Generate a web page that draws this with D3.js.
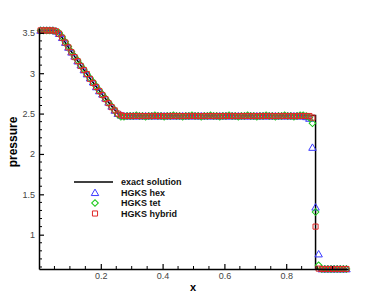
<!DOCTYPE html>
<html><head><meta charset="utf-8">
<script src="https://cdn.jsdelivr.net/npm/d3@7"></script>
<style>body{margin:0;background:#fff}svg{display:block}</style>
</head><body>
<svg id="c" width="387" height="301"></svg>
<script>
// exact solution polyline
const exactX = [0, 0.06, 0.08, 0.10, 0.12, 0.14, 0.16, 0.18, 0.20, 0.22, 0.24, 0.26, 0.895, 0.895, 0.997];
const exactP = [3.53, 3.53, 3.410, 3.293, 3.180, 3.070, 2.963, 2.860, 2.759, 2.662, 2.568, 2.476, 2.476, 0.575, 0.575];

// cell centres
const cellX = [0.005,0.015,0.025,0.035,0.045,0.055,0.065,0.075,0.085,0.095,
0.105,0.115,0.125,0.135,0.145,0.155,0.165,0.175,0.185,0.195,
0.205,0.215,0.225,0.235,0.245,0.255,0.265,0.275,0.285,0.295,
0.305,0.315,0.325,0.335,0.345,0.355,0.365,0.375,0.385,0.395,
0.405,0.415,0.425,0.435,0.445,0.455,0.465,0.475,0.485,0.495,
0.505,0.515,0.525,0.535,0.545,0.555,0.565,0.575,0.585,0.595,
0.605,0.615,0.625,0.635,0.645,0.655,0.665,0.675,0.685,0.695,
0.705,0.715,0.725,0.735,0.745,0.755,0.765,0.775,0.785,0.795,
0.805,0.815,0.825,0.835,0.845,0.855,0.865,0.875,0.885,0.895,
0.905,0.915,0.925,0.935,0.945,0.955,0.965,0.975,0.985,0.995];

const hexP = [3.53,3.53,3.53,3.53,3.53,3.52,3.49,3.44,3.38,3.32,
3.26,3.21,3.15,3.10,3.04,2.99,2.94,2.89,2.83,2.78,
2.74,2.69,2.64,2.59,2.54,2.50,2.48,2.47,2.47,2.47,
2.47,2.47,2.47,2.47,2.47,2.47,2.47,2.47,2.47,2.47,
2.47,2.47,2.47,2.47,2.47,2.47,2.47,2.47,2.47,2.47,
2.47,2.47,2.47,2.47,2.47,2.47,2.47,2.47,2.47,2.47,
2.47,2.47,2.47,2.47,2.47,2.47,2.47,2.47,2.47,2.47,
2.47,2.47,2.47,2.47,2.47,2.47,2.47,2.47,2.47,2.47,
2.47,2.47,2.47,2.47,2.47,2.47,2.46,2.44,2.08,1.34,
0.76,0.575,0.575,0.575,0.575,0.575,0.575,0.575,0.575,0.575];

const tetP = [3.53,3.53,3.53,3.53,3.53,3.52,3.50,3.45,3.39,3.33,
3.27,3.21,3.16,3.10,3.05,2.99,2.94,2.89,2.84,2.79,
2.74,2.69,2.64,2.59,2.54,2.49,2.46,2.46,2.47,2.47,
2.47,2.48,2.47,2.47,2.46,2.47,2.47,2.48,2.47,2.47,
2.46,2.47,2.47,2.48,2.47,2.47,2.46,2.47,2.47,2.48,
2.47,2.47,2.46,2.47,2.47,2.48,2.47,2.47,2.46,2.47,
2.47,2.48,2.47,2.47,2.46,2.47,2.47,2.48,2.47,2.47,
2.46,2.47,2.47,2.48,2.47,2.47,2.46,2.47,2.47,2.48,
2.47,2.47,2.46,2.47,2.48,2.48,2.47,2.45,2.38,1.28,
0.62,0.575,0.575,0.575,0.575,0.575,0.575,0.575,0.575,0.575];

const hybridP = [3.53,3.53,3.53,3.53,3.53,3.52,3.49,3.44,3.38,3.32,
3.26,3.20,3.15,3.09,3.04,2.99,2.93,2.88,2.83,2.78,
2.73,2.68,2.63,2.58,2.54,2.50,2.48,2.47,2.47,2.47,
2.47,2.47,2.47,2.47,2.47,2.47,2.47,2.47,2.47,2.47,
2.47,2.47,2.47,2.47,2.47,2.47,2.47,2.47,2.47,2.47,
2.47,2.47,2.47,2.47,2.47,2.47,2.47,2.47,2.47,2.47,
2.47,2.47,2.47,2.47,2.47,2.47,2.47,2.47,2.47,2.47,
2.47,2.47,2.47,2.47,2.47,2.47,2.47,2.47,2.47,2.47,
2.47,2.47,2.47,2.47,2.47,2.47,2.47,2.47,2.45,1.10,
0.58,0.575,0.575,0.575,0.575,0.575,0.575,0.575,0.575,0.575];

const xTicks = [0.2, 0.4, 0.6, 0.8];
const xTickLabels = ["0.2", "0.4", "0.6", "0.8"];
const yTicks = [1, 1.5, 2, 2.5, 3, 3.5];
const yTickLabels = ["1", "1.5", "2", "2.5", "3", "3.5"];
const legendLabels = ["exact solution", "HGKS hex", "HGKS tet", "HGKS hybrid"];
const seriesColors = ["#3a3aff", "#18c818", "#e02828"];

const svg = d3.select("#c");
const x = d3.scaleLinear().domain([0, 1]).range([39, 348]);
const y = d3.scaleLinear().domain([0.575, 3.56]).range([269, 28]);

// marker symbols (diamond = square rotated 45deg)
const symTri = d3.symbol().type(d3.symbolTriangle).size(24)();
const symSq = d3.symbol().type(d3.symbolSquare).size(26)();
const symDiaBase = d3.symbol().type(d3.symbolSquare).size(22)();
const syms = [symTri, symDiaBase, symSq];
const extra = [" translate(0,0.7)", " rotate(45)", ""];
const series = [hexP, tetP, hybridP];

// exact line (beneath markers)
const line = d3.line().x(d => x(d[0])).y(d => y(d[1]));
svg.append("path").datum(exactX.map((v, i) => [v, exactP[i]]))
  .attr("d", line).attr("fill", "none").attr("stroke", "#000").attr("stroke-width", 1.5);

series.forEach((vals, k) => {
  svg.append("g").selectAll("path").data(vals).join("path")
    .attr("d", syms[k])
    .attr("transform", (d, i) => `translate(${x(cellX[i])},${y(d)})` + extra[k])
    .attr("fill", "none").attr("stroke", seriesColors[k]).attr("stroke-width", 1);
});

// axes (ticks inward)
const xAxis = d3.axisBottom(x).tickValues(xTicks).tickFormat((d, i) => xTickLabels[i]).tickSizeInner(-5).tickSizeOuter(0).tickPadding(4);
const gx = svg.append("g").attr("transform", "translate(0,269)").call(xAxis);
const yAxis = d3.axisLeft(y).tickValues(yTicks).tickFormat((d, i) => yTickLabels[i]).tickSizeInner(-5).tickSizeOuter(0).tickPadding(4);
const gy = svg.append("g").attr("transform", "translate(39,0)").call(yAxis);

// minor ticks
const xMinor = [0.05,0.1,0.15,0.25,0.3,0.35,0.45,0.5,0.55,0.65,0.7,0.75,0.85,0.9,0.95];
const yMinor = [0.6,0.7,0.8,0.9,1.1,1.2,1.3,1.4,1.6,1.7,1.8,1.9,2.1,2.2,2.3,2.4,2.6,2.7,2.8,2.9,3.1,3.2,3.3,3.4];
svg.append("g").selectAll("line").data(xMinor).join("line")
  .attr("x1", d => x(d)).attr("x2", d => x(d)).attr("y1", 269).attr("y2", 266)
  .attr("stroke", "#000").attr("stroke-width", 1);
svg.append("g").selectAll("line").data(yMinor).join("line")
  .attr("x1", 39).attr("x2", 42).attr("y1", d => y(d)).attr("y2", d => y(d))
  .attr("stroke", "#000").attr("stroke-width", 1);

[gx, gy].forEach(g => {
  g.select(".domain").attr("stroke", "#000").attr("stroke-width", 1.5);
  g.selectAll(".tick line").attr("stroke", "#000").attr("stroke-width", 1.2);
  g.selectAll(".tick text").attr("font-family", "Liberation Sans, Arial, sans-serif")
    .attr("font-size", 9).attr("fill", "#444");
});

// axis titles
svg.append("text").attr("x", 193).attr("y", 291).attr("text-anchor", "middle")
  .attr("font-family", "Liberation Sans, Arial, sans-serif").attr("font-weight", "bold").attr("font-size", 11)
  .text("x");
svg.append("text").attr("transform", "translate(17,142) rotate(-90)").attr("text-anchor", "middle")
  .attr("font-family", "Liberation Sans, Arial, sans-serif").attr("font-weight", "bold").attr("font-size", 12)
  .text("pressure");

// legend
const ly = [182, 192.7, 203, 213.5];
const lg = svg.append("g");
lg.append("line").attr("x1", 74).attr("x2", 113).attr("y1", ly[0]).attr("y2", ly[0])
  .attr("stroke", "#000").attr("stroke-width", 1.5);
[0, 1, 2].forEach(k => {
  lg.append("path").attr("d", syms[k]).attr("transform", `translate(95,${ly[k + 1]})` + extra[k])
    .attr("fill", "none").attr("stroke", seriesColors[k]).attr("stroke-width", 1);
});
lg.selectAll("text").data(legendLabels).join("text")
  .attr("x", 121).attr("y", (d, i) => ly[i]).attr("dy", "0.35em")
  .attr("font-family", "Liberation Sans, Arial, sans-serif").attr("font-weight", "bold").attr("font-size", 9)
  .attr("fill", "#111").text(d => d);
</script>
</body></html>
